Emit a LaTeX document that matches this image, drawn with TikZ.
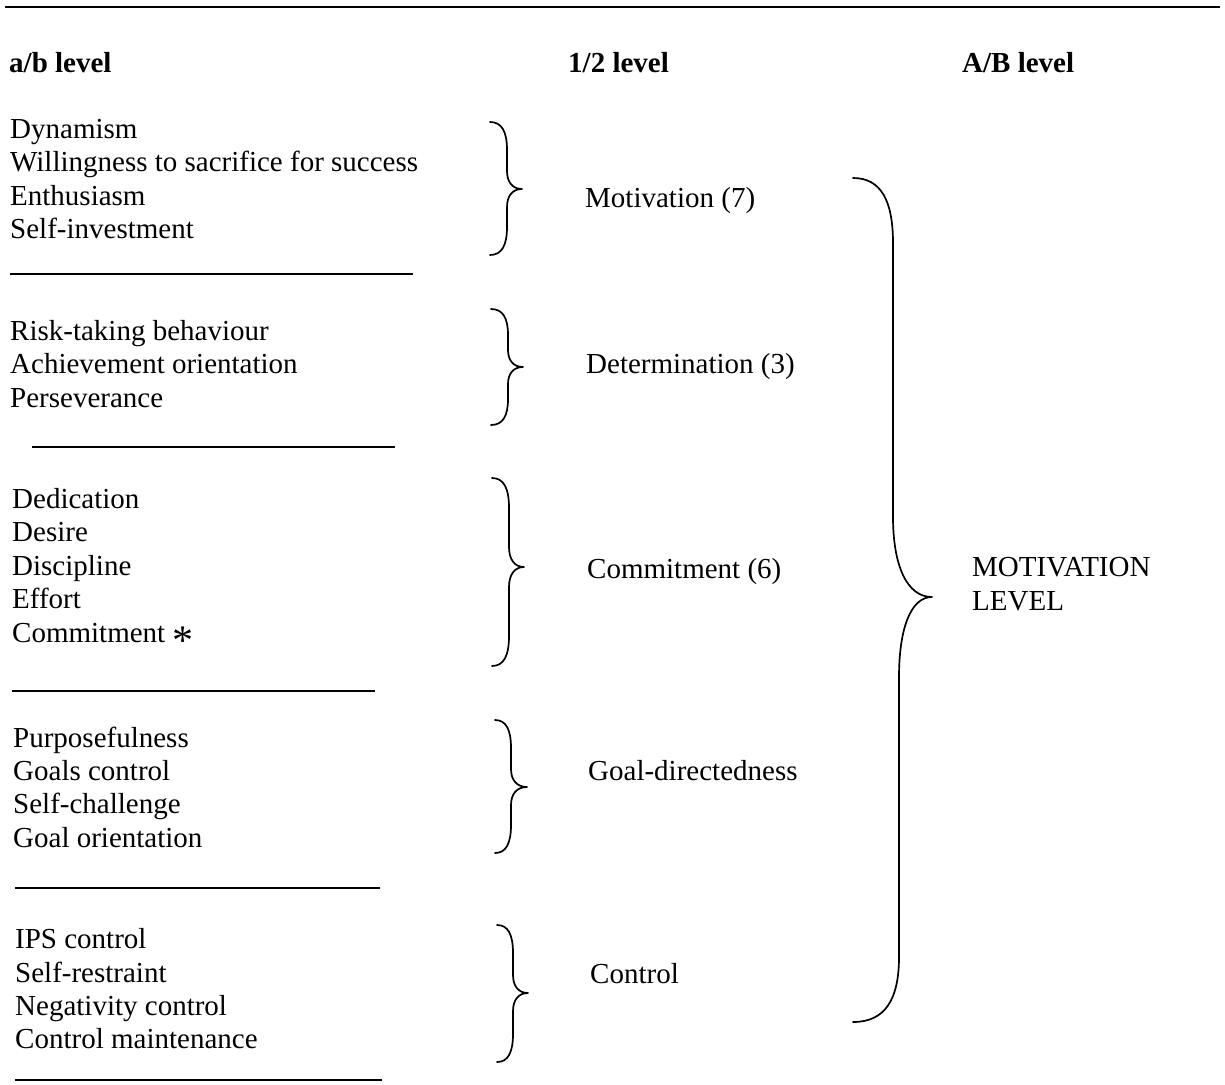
\documentclass[tikz,border=0pt]{standalone}
\usepackage{fontspec}
\usepackage{graphicx}
\setmainfont{Liberation Serif}

% Curly brace opening to the left, pointing right.
% #1 arm x, #2 upper stem x, #3 lower stem x, #4 tip x,
% #5 top y, #6 tip y, #7 bottom y, #8 end radius, #9 middle radius
\newcommand\curlybrace[9]{%
  \draw[bracestroke]
    (#1,#5) .. controls ({#1+0.7*(#2-#1)},#5) and (#2,{#5+0.35*#8}) .. (#2,{#5+#8})
    -- (#2,{#6-#9})
    .. controls (#2,{#6-0.4*#9}) and ({#2+0.35*(#4-#2)},#6) .. (#4,#6)
    .. controls ({#3+0.35*(#4-#3)},#6) and (#3,{#6+0.4*#9}) .. (#3,{#6+#9})
    -- (#3,{#7-#8})
    .. controls (#3,{#7-0.35*#8}) and ({#1+0.7*(#3-#1)},#7) .. (#1,#7);%
}

\begin{document}
\begin{tikzpicture}[x=1pt,y=-1pt,
  item/.style={anchor=base west, inner sep=0pt, font=\fontsize{29}{33}\selectfont},
  head/.style={item, font=\fontsize{29}{33}\selectfont\bfseries},
  rule/.style={line width=1.5pt},
  bracestroke/.style={line width=1.7pt, line cap=round, line join=round}]

\useasboundingbox (0,0) rectangle (1225,1084);

% top rule
\draw[rule] (5,7) -- (1220,7);

% column headings
\node[head] (hab)  at (9,72)   {a/b level};
\node[head] (h12)  at (568,72) {1/2 level};
\node[head] (hAB)  at (962,72) {A/B level};

% group 1
\node[item] (a11) at (10,138) {Dynamism};
\node[item] (a12) at (10,171) {Willingness to sacrifice for success};
\node[item] (a13) at (10,205) {Enthusiasm};
\node[item] (a14) at (10,238) {Self-investment};
\draw[rule] (10,274) -- (413,274);

% group 2
\node[item] (a21) at (10,340) {Risk-taking behaviour};
\node[item] (a22) at (10,373) {Achievement orientation};
\node[item] (a23) at (10,407) {Perseverance};
\draw[rule] (32,447) -- (395,447);

% group 3
\node[item] (a31) at (12,508) {Dedication};
\node[item] (a32) at (12,541) {Desire};
\node[item] (a33) at (12,575) {Discipline};
\node[item] (a34) at (12,608) {Effort};
\node[item] (a35) at (12,642) {Commitment \raisebox{-0.42em}{\scalebox{1.45}{*}}};
\draw[rule] (12,691) -- (375,691);

% group 4
\node[item] (a41) at (13,747) {Purposefulness};
\node[item] (a42) at (13,780) {Goals control};
\node[item] (a43) at (13,813) {Self-challenge};
\node[item] (a44) at (13,847) {Goal orientation};
\draw[rule] (15,888) -- (380,888);

% group 5
\node[item] (a51) at (15,948)  {IPS control};
\node[item] (a52) at (15,982)  {Self-restraint};
\node[item] (a53) at (15,1015) {Negativity control};
\node[item] (a54) at (15,1048) {Control maintenance};
\draw[rule] (15,1080) -- (382,1080);

% braces to the 1/2 level
\curlybrace{490}{507}{507}{522}{122}{189}{255}{28}{18}
\curlybrace{491}{508}{508}{523}{309}{367}{425}{26}{17}
\curlybrace{492}{509}{509}{524}{478}{567}{666}{30}{20}
\curlybrace{495}{511}{511}{527}{720}{787}{853}{28}{18}
\curlybrace{497}{513}{513}{528}{925}{993}{1062}{28}{18}

% 1/2 level labels
\node[item] (b1) at (585,207) {Motivation (7)};
\node[item] (b2) at (586,373) {Determination (3)};
\node[item] (b3) at (587,578) {Commitment (6)};
\node[item] (b4) at (588,780) {Goal-directedness};
\node[item] (b5) at (590,983) {Control};

% brace to the A/B level
\curlybrace{853}{893}{899}{932}{178}{597}{1022}{65}{80}

% A/B level label
\node[item] (c1) at (972,576) {MOTIVATION};
\node[item] (c2) at (972,610) {LEVEL};

\end{tikzpicture}
\end{document}
